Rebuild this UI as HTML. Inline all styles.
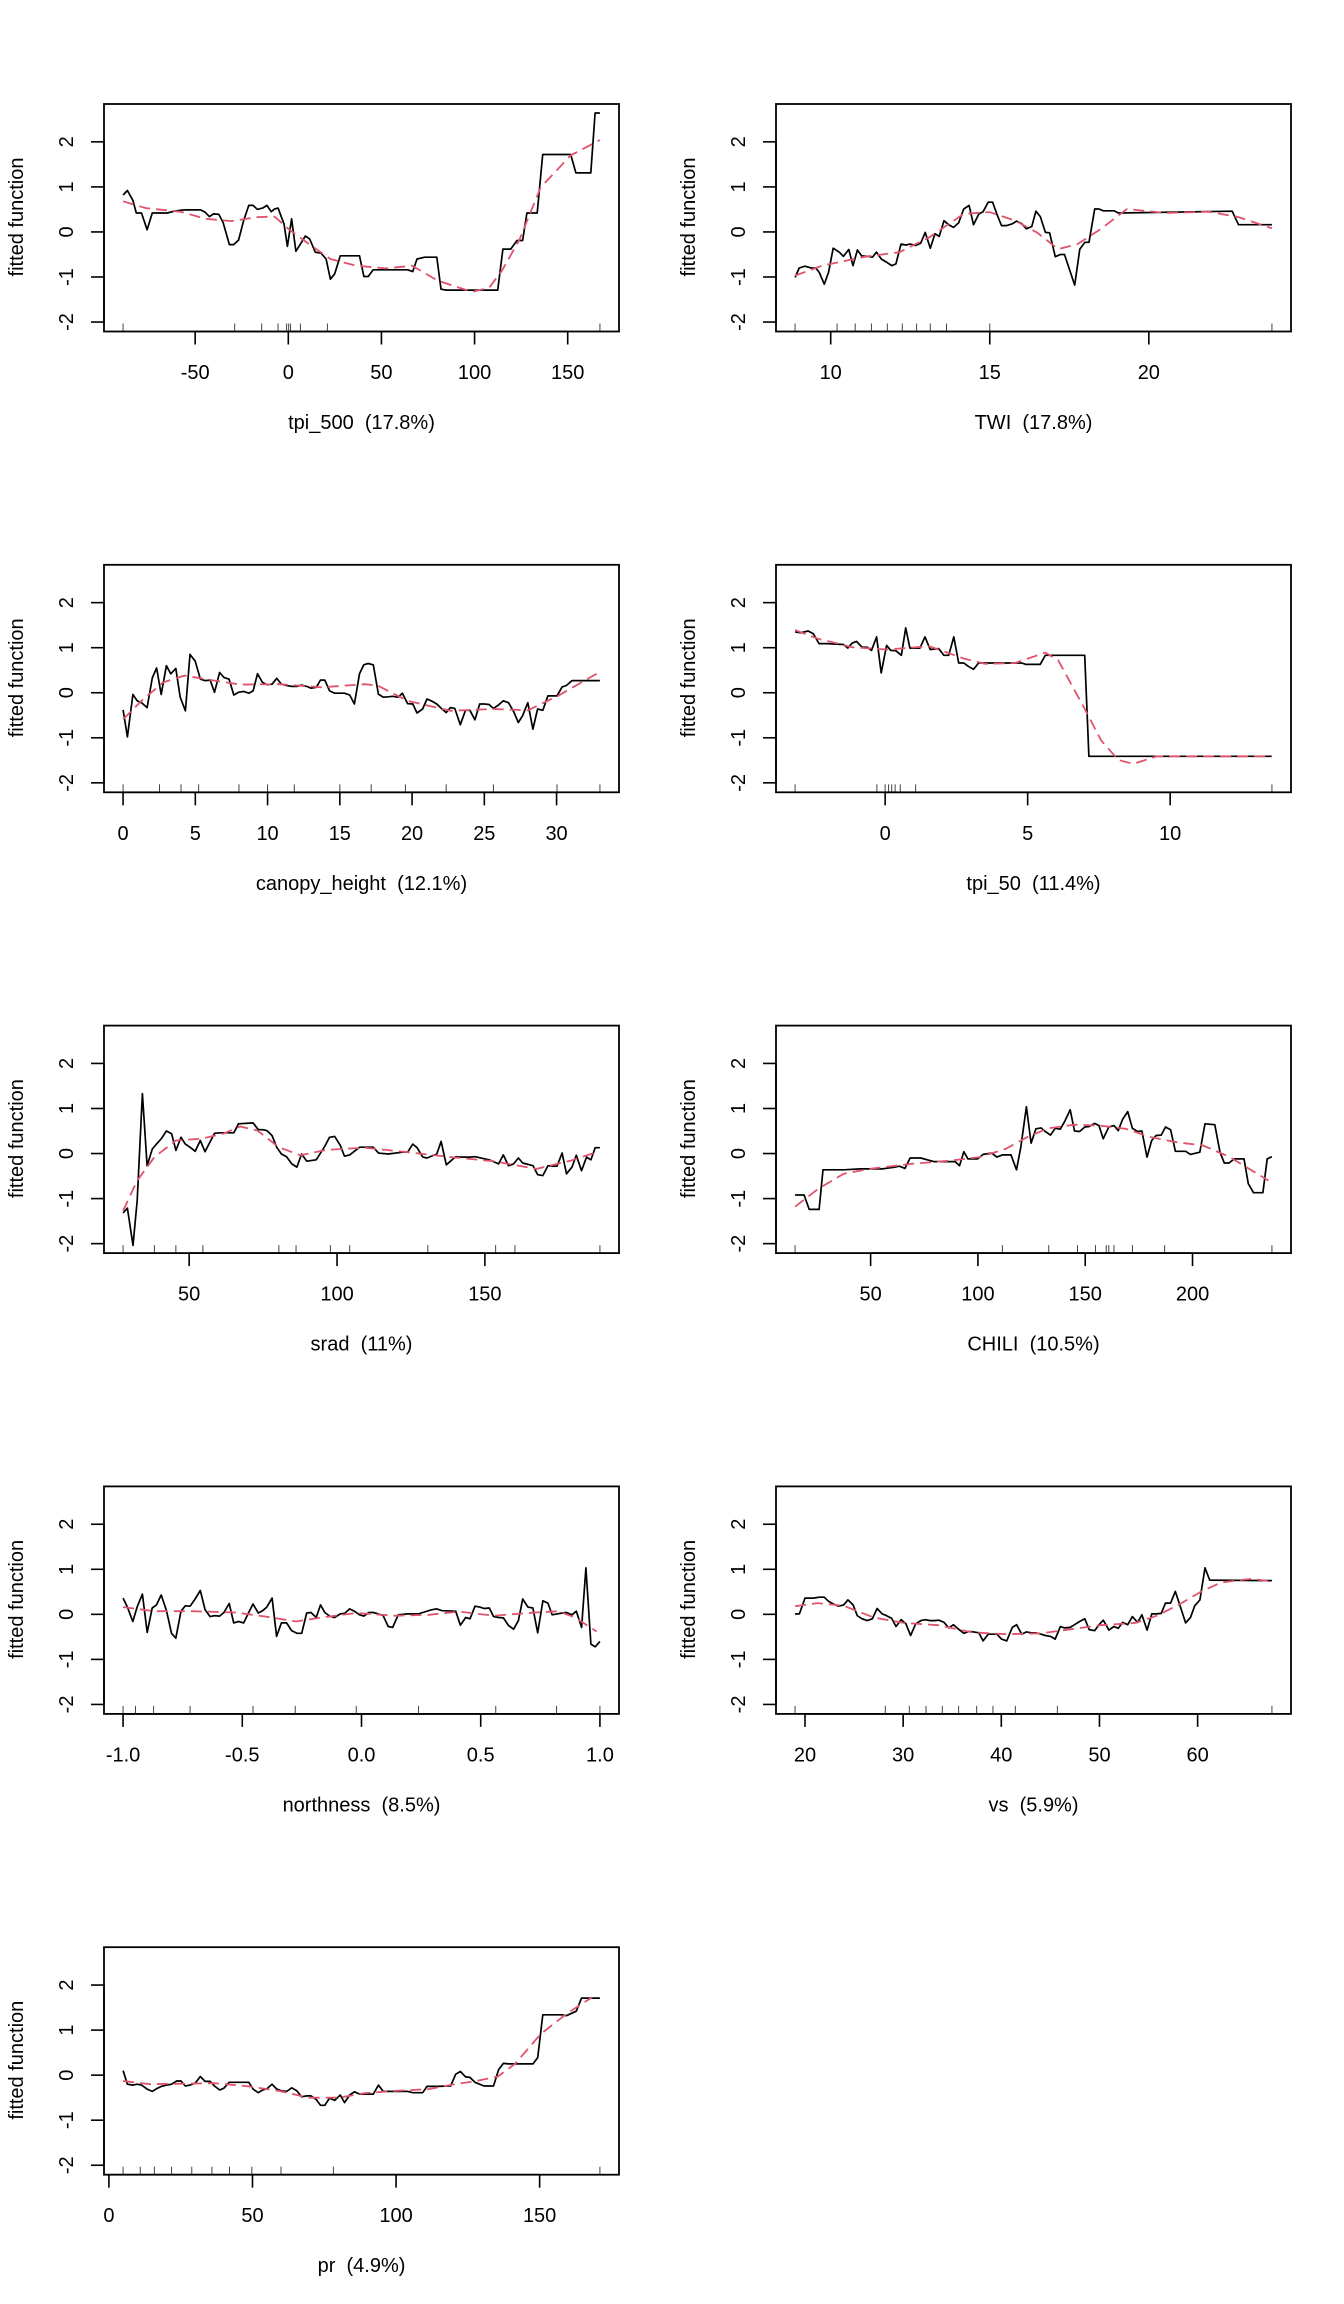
<!DOCTYPE html>
<html><head><meta charset="utf-8">
<style>
html,body{margin:0;padding:0;background:#fff;}
svg{display:block;font-family:"Liberation Sans",Arial,sans-serif;}
</style></head>
<body>
<svg id="chart" width="1344" height="2304" viewBox="0 0 1344 2304" xmlns="http://www.w3.org/2000/svg"></svg>
<script>
// ---------- Panel 1: tpi_500 ----------
const p1X=[-88.7,-86.4,-83.4,-81.6,-78.8,-75.8,-73.0,-65.0,-60.4,-55.8,-47.0,-44.7,-42.4,-40.1,-37.3,-35.0,-31.6,-29.3,-26.7,-24.0,-21.2,-18.9,-16.6,-13.8,-11.5,-9.2,-7.4,-5.5,-3.7,-2.3,-0.5,1.8,4.1,6.5,9.2,11.5,14.5,17.5,20.3,22.6,24.9,27.9,38.2,40.6,42.9,45.6,64.1,66.8,69.1,73.3,79.7,82.0,84.8,112.4,115.2,119.4,122.8,125.8,128.1,133.6,136.6,151.6,154.4,162.4,164.7,167.3];
const p1Y=[0.82,0.92,0.70,0.42,0.42,0.05,0.42,0.42,0.47,0.49,0.49,0.44,0.34,0.40,0.39,0.21,-0.28,-0.28,-0.18,0.25,0.59,0.59,0.50,0.53,0.59,0.45,0.51,0.53,0.33,0.18,-0.32,0.29,-0.43,-0.27,-0.09,-0.16,-0.45,-0.47,-0.60,-1.05,-0.93,-0.53,-0.53,-0.99,-0.99,-0.84,-0.84,-0.88,-0.60,-0.56,-0.56,-1.27,-1.29,-1.29,-0.38,-0.38,-0.19,-0.19,0.42,0.42,1.72,1.72,1.31,1.31,2.64,2.64];
const p1SmX=[-88.7,-76.5,-58,-44.2,-30.4,-16.6,-7.4,0,11.1,22.6,36.4,52.5,66.4,80.2,98.6,107.8,114.7,124,135.5,151.6,167.3];
const p1SmY=[0.68,0.53,0.45,0.29,0.24,0.33,0.34,0.07,-0.27,-0.6,-0.75,-0.81,-0.75,-1.08,-1.33,-1.24,-0.86,-0.18,0.99,1.7,2.04];
const p1Rug=[-88.7,-28.8,-14.3,-5.5,-0.9,0.2,1.2,6.5,21,167.3];
const p1Ticks=[-50,0,50,100,150];
// ---------- Panel 2: TWI ----------
const p2X=[8.88,9.01,9.19,9.39,9.53,9.64,9.80,9.93,10.08,10.27,10.40,10.57,10.70,10.84,10.97,11.17,11.31,11.44,11.59,11.75,11.92,12.05,12.21,12.36,12.50,12.67,12.83,12.97,13.13,13.28,13.41,13.56,13.71,13.86,14.02,14.18,14.35,14.49,14.66,14.79,14.95,15.09,15.22,15.37,15.53,15.71,15.84,16.01,16.15,16.32,16.45,16.59,16.75,16.88,17.06,17.22,17.35,17.67,17.83,17.99,18.12,18.30,18.43,18.57,18.91,19.04,22.62,22.82,23.87];
const p2Y=[-1.01,-0.80,-0.76,-0.80,-0.80,-0.90,-1.16,-0.90,-0.36,-0.45,-0.54,-0.39,-0.75,-0.40,-0.53,-0.54,-0.56,-0.45,-0.60,-0.67,-0.75,-0.71,-0.27,-0.29,-0.27,-0.30,-0.25,-0.01,-0.36,-0.04,-0.10,0.25,0.16,0.10,0.20,0.51,0.59,0.16,0.40,0.45,0.66,0.66,0.40,0.14,0.14,0.18,0.24,0.18,0.07,0.12,0.46,0.34,-0.01,-0.02,-0.55,-0.50,-0.50,-1.18,-0.38,-0.23,-0.23,0.51,0.51,0.47,0.47,0.42,0.46,0.16,0.16];
const p2SmX=[8.88,9.73,11.08,12.16,13.1,14.18,15,15.8,16.48,17.15,17.76,18.5,19.31,20.53,21.88,22.82,23.87];
const p2SmY=[-0.97,-0.75,-0.55,-0.45,-0.12,0.4,0.44,0.25,-0.01,-0.38,-0.27,0.07,0.51,0.42,0.45,0.33,0.08];
const p2Rug=[8.88,10.20,10.77,11.28,11.78,12.25,12.70,13.13,13.64,15,23.87];
const p2Ticks=[10,15,20];
// ---------- Panel 3: canopy_height ----------
const p3X=[0,0.30,0.68,0.98,1.28,1.66,2.02,2.32,2.64,3.00,3.30,3.65,3.95,4.31,4.63,4.99,5.35,5.67,6.03,6.33,6.68,6.98,7.34,7.66,7.99,8.35,8.70,9.00,9.30,9.65,9.95,10.31,10.63,10.96,11.32,11.67,12.03,12.36,12.71,13.01,13.37,13.66,13.96,14.29,14.64,15.03,15.32,15.68,16.01,16.36,16.66,16.96,17.32,17.67,18.00,18.35,18.65,19.04,19.33,19.69,20.05,20.34,20.73,21.03,21.32,21.71,22.07,22.36,22.66,22.96,23.34,23.70,24.00,24.35,24.68,24.98,25.33,25.63,25.99,26.31,26.67,27.03,27.35,27.65,28.01,28.36,28.69,29.05,29.40,29.70,30.03,30.38,30.68,31.07,33.00];
const p3Y=[-0.38,-0.98,-0.04,-0.18,-0.22,-0.33,0.33,0.55,-0.04,0.60,0.42,0.54,-0.10,-0.40,0.85,0.70,0.30,0.27,0.28,0.01,0.45,0.34,0.30,-0.05,0.01,0.03,-0.01,0.04,0.42,0.23,0.18,0.19,0.32,0.19,0.16,0.14,0.14,0.17,0.14,0.10,0.12,0.28,0.28,0.04,-0.01,-0.01,-0.01,-0.05,-0.25,0.42,0.62,0.65,0.62,-0.03,-0.10,-0.09,-0.08,-0.10,-0.01,-0.24,-0.25,-0.45,-0.36,-0.14,-0.18,-0.25,-0.36,-0.44,-0.33,-0.35,-0.71,-0.39,-0.39,-0.60,-0.25,-0.25,-0.26,-0.35,-0.27,-0.18,-0.22,-0.42,-0.66,-0.51,-0.22,-0.81,-0.36,-0.39,-0.07,-0.07,-0.07,0.13,0.16,0.27,0.27];
const p3SmX=[0,1.28,2.76,4.25,6.33,8.11,10.78,13.75,16.72,17.61,19.69,22.66,25.63,28.01,30.09,32.76];
const p3SmY=[-0.59,-0.18,0.23,0.38,0.27,0.18,0.19,0.12,0.19,0.16,-0.18,-0.40,-0.36,-0.39,-0.07,0.42];
const p3Rug=[0,2.52,4.01,5.23,8.02,10.0,11.85,15.0,17.17,19.54,22.36,25.63,30.03,33.0];
const p3Ticks=[0,5,10,15,20,25,30];
// ---------- Panel 4: tpi_50 ----------
const p4X=[-3.16,-2.97,-2.70,-2.52,-2.32,-2.06,-1.46,-1.31,-1.16,-1.01,-0.81,-0.63,-0.48,-0.30,-0.14,0.05,0.20,0.38,0.57,0.72,0.87,1.22,1.40,1.58,1.88,2.06,2.23,2.41,2.58,2.76,2.91,3.10,3.28,4.79,4.94,5.44,5.62,7.00,7.15,13.57];
const p4Y=[1.35,1.33,1.37,1.31,1.09,1.09,1.07,0.99,1.10,1.14,1.01,1.01,0.94,1.24,0.44,1.05,0.94,0.93,0.83,1.44,0.99,0.99,1.24,0.96,0.98,0.83,0.83,1.24,0.66,0.66,0.59,0.52,0.66,0.66,0.63,0.63,0.83,0.83,-1.41,-1.41];
const p4SmX=[-3.16,-2.36,-1.16,0.05,1.55,2.76,3.51,4.56,5.62,6.07,6.97,7.58,8.18,8.70,9.53,13.57];
const p4SmY=[1.39,1.2,1.01,0.96,1.03,0.76,0.64,0.66,0.89,0.72,-0.32,-1.06,-1.49,-1.58,-1.41,-1.41];
const p4Rug=[-3.16,-0.29,0,0.12,0.23,0.35,0.53,1.07,13.57];
const p4Ticks=[0,5,10];
// ---------- Panel 5: srad ----------
const p5X=[27.65,29.10,30.99,32.44,34.18,35.78,37.52,38.97,40.57,42.31,44.05,45.50,47.24,48.69,50.29,52.03,53.77,55.37,58.56,60.30,65.09,66.69,71.63,73.37,74.82,76.27,78.01,79.61,81.20,82.95,84.69,86.43,88.03,89.77,92.96,95.86,97.46,99.20,101.09,102.54,104.28,107.62,112.26,114.01,117.34,122.13,123.88,125.62,127.07,128.96,130.41,133.74,135.20,136.94,140.13,141.73,144.92,146.66,151.45,154.64,156.24,157.98,159.72,161.32,162.77,166.26,167.85,169.59,171.34,172.79,174.38,176.12,177.58,179.46,180.91,182.66,184.40,185.85,187.30,188.90];
const p5Y=[-1.32,-1.21,-2.04,-1.04,1.33,-0.27,0.10,0.21,0.33,0.50,0.44,0.07,0.36,0.21,0.14,0.05,0.29,0.04,0.45,0.46,0.46,0.66,0.68,0.53,0.53,0.51,0.40,0.14,-0.01,-0.07,-0.23,-0.30,-0.01,-0.17,-0.14,0.16,0.36,0.38,0.18,-0.06,-0.03,0.14,0.14,0.01,-0.01,0.03,0.03,0.21,0.13,-0.08,-0.10,-0.01,0.27,-0.25,-0.07,-0.08,-0.08,-0.07,-0.14,-0.23,-0.03,-0.27,-0.23,-0.10,-0.21,-0.27,-0.47,-0.49,-0.27,-0.28,-0.28,0.01,-0.45,-0.30,-0.04,-0.38,-0.08,-0.14,0.13,0.13];
const p5SmX=[27.65,32.44,38.25,45.5,54.2,61.5,67.3,73.1,80.3,87.6,96.3,109.4,123.9,138.4,152.9,167.4,179,187.7];
const p5SmY=[-1.27,-0.6,-0.08,0.29,0.33,0.44,0.6,0.51,0.14,-0.04,0.08,0.13,0.03,-0.08,-0.17,-0.34,-0.16,0.03];
const p5Rug=[27.65,38.24,45.50,54.64,80.33,86.14,97.75,104.28,130.70,153.63,160.16,188.90];
const p5Ticks=[50,100,150];
// ---------- Panel 6: CHILI ----------
const p6X=[14.8,19.0,21.4,26.0,27.8,37.4,45.4,55.4,61.4,63.4,66.0,68.4,73.4,76.4,79.4,89.4,91.4,93.4,95.4,99.8,102.4,106.4,108.8,111.4,115.4,118.0,120.0,122.6,124.8,127.0,129.4,131.4,133.8,136.0,138.4,140.4,143.0,145.0,147.4,149.8,151.8,154.4,156.4,158.4,161.0,163.4,165.4,167.4,169.8,172.0,174.4,176.4,178.8,181.0,183.0,185.4,187.4,189.8,192.0,196.8,199.0,203.4,205.8,210.4,212.8,214.8,217.0,219.4,224.0,226.0,228.4,232.8,234.8,237.0];
const p6Y=[-0.92,-0.92,-1.24,-1.24,-0.36,-0.36,-0.34,-0.34,-0.30,-0.28,-0.33,-0.10,-0.10,-0.14,-0.18,-0.18,-0.27,0.04,-0.12,-0.12,-0.02,0.01,-0.08,-0.03,-0.03,-0.36,0.14,1.04,0.23,0.55,0.57,0.49,0.41,0.56,0.54,0.71,0.97,0.50,0.49,0.59,0.60,0.67,0.62,0.33,0.59,0.62,0.51,0.76,0.93,0.56,0.49,0.50,-0.08,0.29,0.40,0.41,0.59,0.53,0.05,0.05,-0.02,0.03,0.66,0.64,0.03,-0.21,-0.21,-0.12,-0.12,-0.67,-0.87,-0.87,-0.12,-0.07];
const p6SmX=[14.8,25.4,37.4,49.4,68.8,86.8,100.8,112.8,122.8,132.8,144.8,156.8,168.8,180.8,192.8,204.8,217.4,226.4,235.4];
const p6SmY=[-1.18,-0.79,-0.45,-0.34,-0.23,-0.16,-0.08,0.10,0.36,0.56,0.64,0.62,0.55,0.36,0.25,0.18,-0.08,-0.34,-0.6];
const p6Rug=[14.8,111.4,133.0,146.4,154.8,159.8,161.0,163.4,172.0,187.0,237.0];
const p6Ticks=[50,100,150,200];
// ---------- Panel 7: northness ----------
const p7X=[-1.000,-0.982,-0.959,-0.941,-0.919,-0.899,-0.878,-0.860,-0.840,-0.818,-0.797,-0.779,-0.757,-0.739,-0.719,-0.698,-0.676,-0.656,-0.635,-0.617,-0.595,-0.577,-0.555,-0.536,-0.516,-0.494,-0.473,-0.455,-0.433,-0.415,-0.397,-0.375,-0.356,-0.336,-0.314,-0.293,-0.271,-0.251,-0.230,-0.212,-0.190,-0.172,-0.154,-0.134,-0.113,-0.089,-0.071,-0.050,-0.030,-0.008,0.010,0.031,0.049,0.071,0.091,0.112,0.131,0.154,0.194,0.239,0.257,0.293,0.316,0.338,0.395,0.415,0.437,0.455,0.476,0.496,0.514,0.536,0.554,0.575,0.595,0.617,0.638,0.658,0.676,0.698,0.719,0.739,0.761,0.782,0.800,0.820,0.842,0.860,0.883,0.901,0.923,0.941,0.962,0.980,1.000];
const p7Y=[0.36,0.16,-0.16,0.16,0.45,-0.40,0.14,0.21,0.43,0.08,-0.42,-0.53,0.07,0.19,0.18,0.34,0.53,0.10,-0.05,-0.03,-0.04,0.04,0.24,-0.19,-0.16,-0.19,0.04,0.23,0.03,0.08,0.16,0.36,-0.49,-0.19,-0.19,-0.36,-0.42,-0.42,0.03,0.04,-0.07,0.21,0.04,-0.04,-0.07,0.01,0.02,0.12,0.07,-0.01,-0.04,0.04,0.04,0.01,-0.03,-0.27,-0.29,-0.01,0.01,0.01,0.04,0.10,0.12,0.08,0.07,-0.24,-0.07,-0.10,0.18,0.16,0.13,0.14,-0.05,-0.07,-0.08,-0.25,-0.33,-0.14,0.34,0.16,0.14,-0.41,0.30,0.25,-0.01,0.01,0.03,0.04,-0.01,0.07,-0.29,1.03,-0.66,-0.72,-0.60];
const p7SmX=[-1,-0.869,-0.707,-0.527,-0.401,-0.275,-0.167,-0.022,0.140,0.284,0.410,0.554,0.698,0.824,0.896,0.986];
const p7SmY=[0.16,0.07,0.07,0.04,-0.05,-0.16,-0.07,0.03,-0.03,-0.01,0.06,-0.03,0.03,0.07,-0.07,-0.38];
const p7Rug=[-1,-0.948,-0.872,-0.719,-0.455,-0.278,-0.022,0.239,0.563,0.818,1.0];
const p7Ticks=[-1.0,-0.5,0.0,0.5,1.0];
const p7TickLabels=["-1.0","-0.5","0.0","0.5","1.0"];
// ---------- Panel 8: vs ----------
const p8X=[18.99,19.43,20.00,20.87,21.44,21.97,22.40,22.89,23.41,23.94,24.37,24.90,25.33,25.82,26.34,26.86,27.35,27.87,28.31,28.83,29.27,29.79,30.28,30.76,31.28,31.81,32.24,32.77,33.20,33.64,34.17,34.65,35.13,35.65,36.18,36.70,37.18,37.71,38.15,38.67,39.11,39.55,40.03,40.55,41.12,41.56,42.08,42.56,43.09,43.52,44.05,44.49,45.01,45.49,46.02,46.45,47.02,47.46,47.98,48.51,48.95,49.51,49.95,50.39,50.96,51.48,51.92,52.36,52.88,53.36,53.89,54.32,54.85,55.33,55.77,56.29,56.73,57.25,57.73,58.26,58.78,59.27,59.70,60.23,60.75,61.23,67.57];
const p8Y=[0.01,0.01,0.36,0.36,0.38,0.38,0.29,0.23,0.18,0.21,0.32,0.21,-0.03,-0.10,-0.14,-0.10,0.13,0.01,-0.03,-0.09,-0.27,-0.12,-0.21,-0.47,-0.21,-0.14,-0.12,-0.14,-0.14,-0.13,-0.18,-0.30,-0.23,-0.33,-0.42,-0.38,-0.39,-0.41,-0.59,-0.44,-0.44,-0.44,-0.55,-0.59,-0.29,-0.23,-0.44,-0.39,-0.41,-0.41,-0.44,-0.47,-0.49,-0.55,-0.27,-0.30,-0.29,-0.23,-0.16,-0.10,-0.34,-0.36,-0.23,-0.13,-0.35,-0.27,-0.31,-0.18,-0.23,-0.05,-0.18,-0.01,-0.35,0.01,0.01,0.02,0.25,0.25,0.51,0.16,-0.19,-0.07,0.19,0.32,1.03,0.76,0.75];
const p8SmX=[18.99,21.31,23.94,27,30.06,33.55,37.05,40.55,44.05,47.11,50.17,53.67,55.85,58.04,60.23,62.41,65.48,67.57];
const p8SmY=[0.18,0.25,0.19,-0.07,-0.19,-0.24,-0.40,-0.44,-0.42,-0.33,-0.24,-0.19,-0.03,0.21,0.49,0.71,0.79,0.73];
const p8Rug=[18.99,28.18,30.63,32.33,33.99,35.65,37.49,39.15,41.43,45.71,67.57];
const p8Ticks=[20,30,40,50,60];
// ---------- Panel 9: pr ----------
const p9X=[4.93,6.43,8.37,9.87,11.36,13.30,15.10,16.59,18.24,20.03,21.82,23.62,25.11,26.61,28.25,30.04,31.84,33.48,35.28,36.77,38.57,40.06,41.85,43.50,45.14,46.94,48.73,50.22,52.02,53.51,55.01,56.80,58.45,60.09,61.88,63.68,65.47,67.11,68.91,70.40,72.20,73.69,75.19,76.83,78.62,80.57,82.06,83.86,85.50,87.29,92.08,93.87,95.52,97.31,104.04,105.83,109.27,110.76,114.20,118.98,120.78,122.42,124.22,125.71,127.50,130.64,133.93,135.72,137.37,139.16,147.68,149.33,151.12,157.85,159.34,162.78,164.57,171.00];
const p9Y=[0.10,-0.20,-0.22,-0.20,-0.22,-0.31,-0.36,-0.30,-0.25,-0.22,-0.20,-0.13,-0.13,-0.24,-0.22,-0.18,-0.03,-0.14,-0.14,-0.24,-0.33,-0.29,-0.16,-0.16,-0.16,-0.16,-0.16,-0.31,-0.39,-0.33,-0.30,-0.20,-0.31,-0.35,-0.36,-0.28,-0.35,-0.48,-0.46,-0.46,-0.54,-0.67,-0.67,-0.51,-0.56,-0.44,-0.61,-0.44,-0.37,-0.42,-0.42,-0.22,-0.36,-0.36,-0.36,-0.39,-0.39,-0.25,-0.25,-0.24,0.02,0.08,-0.04,-0.05,-0.16,-0.24,-0.24,0.12,0.26,0.25,0.25,0.39,1.34,1.34,1.32,1.42,1.71,1.71];
const p9SmX=[4.93,14.35,24.81,36.77,48.73,59.19,69.66,80.12,89.09,99.55,111.51,120.48,127.95,135.43,141.41,150.37,159.34,168.31];
const p9SmY=[-0.13,-0.20,-0.19,-0.18,-0.25,-0.35,-0.50,-0.50,-0.40,-0.35,-0.31,-0.20,-0.13,-0.03,0.25,0.91,1.36,1.73];
const p9Rug=[4.93,10.91,15.84,21.82,28.85,35.87,42.00,49.78,59.94,78.18,171.00];
const p9Ticks=[0,50,100,150];

const yTicks=[-2,-1,0,1,2];
const panels=[
 {name:"tpi-500",title:"tpi_500  (17.8%)",x:p1X,y:p1Y,sx:p1SmX,sy:p1SmY,rug:p1Rug,ticks:p1Ticks},
 {name:"twi",title:"TWI  (17.8%)",x:p2X,y:p2Y,sx:p2SmX,sy:p2SmY,rug:p2Rug,ticks:p2Ticks},
 {name:"canopy-height",title:"canopy_height  (12.1%)",x:p3X,y:p3Y,sx:p3SmX,sy:p3SmY,rug:p3Rug,ticks:p3Ticks},
 {name:"tpi-50",title:"tpi_50  (11.4%)",x:p4X,y:p4Y,sx:p4SmX,sy:p4SmY,rug:p4Rug,ticks:p4Ticks},
 {name:"srad",title:"srad  (11%)",x:p5X,y:p5Y,sx:p5SmX,sy:p5SmY,rug:p5Rug,ticks:p5Ticks},
 {name:"chili",title:"CHILI  (10.5%)",x:p6X,y:p6Y,sx:p6SmX,sy:p6SmY,rug:p6Rug,ticks:p6Ticks},
 {name:"northness",title:"northness  (8.5%)",x:p7X,y:p7Y,sx:p7SmX,sy:p7SmY,rug:p7Rug,ticks:p7Ticks,labels:p7TickLabels},
 {name:"vs",title:"vs  (5.9%)",x:p8X,y:p8Y,sx:p8SmX,sy:p8SmY,rug:p8Rug,ticks:p8Ticks},
 {name:"pr",title:"pr  (4.9%)",x:p9X,y:p9Y,sx:p9SmX,sy:p9SmY,rug:p9Rug,ticks:p9Ticks}
];

const NS="http://www.w3.org/2000/svg";
const svg=document.getElementById('chart');
function mk(tag,attrs,parent){const e=document.createElementNS(NS,tag);for(const k in attrs)e.setAttribute(k,attrs[k]);parent.appendChild(e);return e;}

const YLO=-2.21,YHI=2.84;
panels.forEach((p,i)=>{
  const ox=(i%2)*672, oy=Math.floor(i/2)*460.8;
  const L=ox+104,R=ox+619,T=oy+104,B=oy+331.5;
  const xmin=Math.min(...p.x),xmax=Math.max(...p.x),ext=(xmax-xmin)*0.04;
  const x0=xmin-ext,x1=xmax+ext;
  const sx=v=>L+(v-x0)/(x1-x0)*(R-L);
  const sy=v=>T+(YHI-v)/(YHI-YLO)*(B-T);
  const g=mk('g',{},svg);
  
  
  const ya=mk('g',{},g);
  
  
  mk('line',{x1:L,x2:L,y1:sy(-2),y2:sy(2),stroke:'#000','stroke-width':1.6},ya);
  yTicks.forEach(t=>{
    const yy=sy(t);
    const tl=mk('line',{x1:L-13,x2:L,y1:yy,y2:yy,stroke:'#000','stroke-width':1.6},ya);
    
    
    const tx=mk('text',{x:0,y:0,'font-size':20,'text-anchor':'middle',transform:`translate(${ox+73},${yy}) rotate(-90)`},ya);
    
    
    tx.textContent=String(t);
  });
  const yt=mk('text',{x:0,y:0,'font-size':20,'text-anchor':'middle',transform:`translate(${ox+23},${oy+217}) rotate(-90)`},g);
  
  
  yt.textContent='fitted function';
  const xa=mk('g',{},g);
  
  
  mk('line',{x1:sx(p.ticks[0]),x2:sx(p.ticks[p.ticks.length-1]),y1:B,y2:B,stroke:'#000','stroke-width':1.6},xa);
  p.ticks.forEach((t,k)=>{
    const xx=sx(t);
    const tl=mk('line',{x1:xx,x2:xx,y1:B,y2:B+13,stroke:'#000','stroke-width':1.6},xa);
    
    
    const tx=mk('text',{x:xx,y:oy+379,'font-size':20,'text-anchor':'middle'},xa);
    
    
    tx.textContent=p.labels?p.labels[k]:String(t);
  });
  const xt=mk('text',{x:(L+R)/2,y:oy+429,'font-size':20,'text-anchor':'middle'},g);
  
  
  xt.style.whiteSpace='pre';
  xt.textContent=p.title;
  p.rug.forEach(v=>{
    const r=mk('line',{x1:sx(v),x2:sx(v),y1:B,y2:B-8,stroke:'#444','stroke-width':1},g);
    
    
  });
  const d=p.x.map((v,k)=>(k?'L':'M')+sx(v).toFixed(1)+','+sy(p.y[k]).toFixed(1)).join('');
  const fl=mk('path',{d:d,fill:'none',stroke:'#000','stroke-width':1.7,'stroke-linejoin':'round'},g);
  
  
  const ds=p.sx.map((v,k)=>(k?'L':'M')+sx(v).toFixed(1)+','+sy(p.sy[k]).toFixed(1)).join('');
  const sl=mk('path',{d:ds,fill:'none',stroke:'#DF536B','stroke-width':1.8,'stroke-dasharray':'11 6'},g);
  
  
  const bx=mk('rect',{x:L,y:T,width:R-L,height:B-T,fill:'none',stroke:'#000','stroke-width':1.8},g);
  
  
});
</script>
</body></html>
